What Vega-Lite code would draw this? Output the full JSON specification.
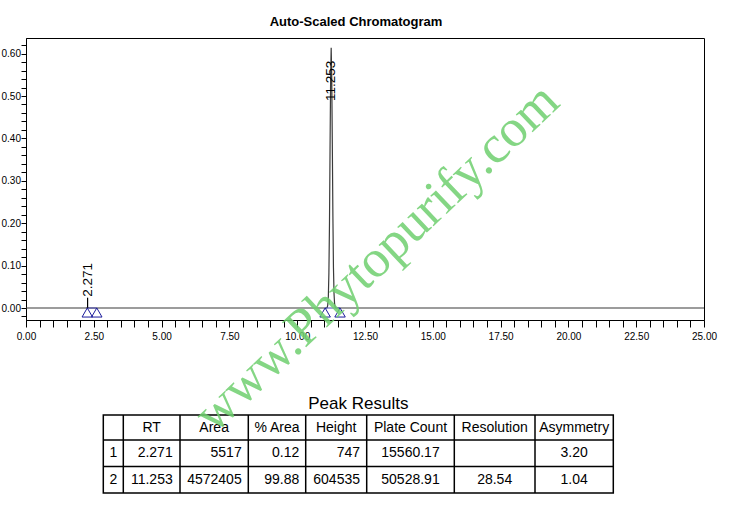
{
  "$schema": "https://vega.github.io/schema/vega-lite/v6.json",
  "width": 678,
  "height": 282,
  "autosize": {"type": "none"},
  "padding": {"left": 26, "top": 38, "right": 26, "bottom": 204},
  "background": "white",
  "config": {
    "view": {"stroke": "black", "strokeWidth": 1},
    "font": "Liberation Sans"
  },
  "title": {
    "text": "Auto-Scaled Chromatogram",
    "font": "Liberation Sans",
    "fontSize": 13,
    "fontWeight": "bold",
    "color": "black",
    "anchor": "middle",
    "frame": "group",
    "dx": -9,
    "baseline": "alphabetic",
    "offset": -1
  },
  "datasets": {
    "signal": [
      {"time": 0, "au": 0},
      {"time": 2.2, "au": 0},
      {"time": 2.235, "au": 0.0001},
      {"time": 2.253, "au": 0.00045},
      {"time": 2.271, "au": 0.00075},
      {"time": 2.289, "au": 0.00047},
      {"time": 2.31, "au": 0.00014},
      {"time": 2.36, "au": 0.00002},
      {"time": 2.45, "au": 0},
      {"time": 11.0, "au": 0},
      {"time": 11.085, "au": 0.0002},
      {"time": 11.1065, "au": 0.0013},
      {"time": 11.127, "au": 0.0068},
      {"time": 11.1485, "au": 0.027},
      {"time": 11.169, "au": 0.0831},
      {"time": 11.1905, "au": 0.1994},
      {"time": 11.211, "au": 0.3724},
      {"time": 11.2325, "au": 0.5419},
      {"time": 11.253, "au": 0.614},
      {"time": 11.2735, "au": 0.545},
      {"time": 11.295, "au": 0.385},
      {"time": 11.3165, "au": 0.215},
      {"time": 11.337, "au": 0.095},
      {"time": 11.3585, "au": 0.033},
      {"time": 11.379, "au": 0.0095},
      {"time": 11.4005, "au": 0.0022},
      {"time": 11.421, "au": 0.0004},
      {"time": 11.46, "au": 0},
      {"time": 25, "au": 0}
    ],
    "peaks": [
      {"peak": 1, "rt": 2.271, "label": "2.271", "height": 0.00075, "start": 2.26, "end": 2.61},
      {"peak": 2, "rt": 11.253, "label": "11.253", "height": 0.614, "start": 11.03, "end": 11.58}
    ],
    "cells": [
      {"row": 0, "col": 0, "text": ""},
      {"row": 0, "col": 1, "text": "RT"},
      {"row": 0, "col": 2, "text": "Area"},
      {"row": 0, "col": 3, "text": "% Area"},
      {"row": 0, "col": 4, "text": "Height"},
      {"row": 0, "col": 5, "text": "Plate Count"},
      {"row": 0, "col": 6, "text": "Resolution"},
      {"row": 0, "col": 7, "text": "Asymmetry"},
      {"row": 1, "col": 0, "text": "1"},
      {"row": 1, "col": 1, "text": "2.271"},
      {"row": 1, "col": 2, "text": "5517"},
      {"row": 1, "col": 3, "text": "0.12"},
      {"row": 1, "col": 4, "text": "747"},
      {"row": 1, "col": 5, "text": "15560.17"},
      {"row": 1, "col": 6, "text": ""},
      {"row": 1, "col": 7, "text": "3.20"},
      {"row": 2, "col": 0, "text": "2"},
      {"row": 2, "col": 1, "text": "11.253"},
      {"row": 2, "col": 2, "text": "4572405"},
      {"row": 2, "col": 3, "text": "99.88"},
      {"row": 2, "col": 4, "text": "604535"},
      {"row": 2, "col": 5, "text": "50528.91"},
      {"row": 2, "col": 6, "text": "28.54"},
      {"row": 2, "col": 7, "text": "1.04"}
    ]
  },
  "layer": [
    {
      "data": {"name": "cells"},
      "mark": {"type": "rect", "filled": false, "color": "black", "stroke": "black", "strokeWidth": 1.5},
      "transform": [{"filter": "datum.row === 0 && datum.col === 0"}],
      "encoding": {
        "x": {"datum": 0, "type": "quantitative", "axis": null, "scale": {"domain": [0, 1, 2, 3, 4, 5, 6, 7, 8], "range": [77.3, 97.3, 154, 222.3, 279.7, 340.7, 428.3, 509, 587.3], "zero": false, "nice": false}},
        "x2": {"datum": 8},
        "y": {"datum": 0, "type": "quantitative", "axis": null, "scale": {"domain": [0, 1, 2, 3], "range": [377, 402, 428.5, 455], "zero": false, "nice": false}},
        "y2": {"datum": 3}
      }
    },
    {
      "data": {"name": "cells"},
      "mark": {"type": "rule", "color": "black", "strokeWidth": 1.5},
      "transform": [{"filter": "datum.row === 0 && datum.col >= 1"}],
      "encoding": {
        "x": {"field": "col", "type": "quantitative", "axis": null, "scale": {"domain": [0, 1, 2, 3, 4, 5, 6, 7, 8], "range": [77.3, 97.3, 154, 222.3, 279.7, 340.7, 428.3, 509, 587.3], "zero": false, "nice": false}},
        "y": {"datum": 0, "type": "quantitative", "axis": null, "scale": {"domain": [0, 1, 2, 3], "range": [377, 402, 428.5, 455], "zero": false, "nice": false}},
        "y2": {"datum": 3}
      }
    },
    {
      "data": {"name": "cells"},
      "mark": {"type": "rule", "color": "black", "strokeWidth": 1.5},
      "transform": [{"filter": "datum.col === 0 && datum.row >= 1"}],
      "encoding": {
        "x": {"datum": 0, "type": "quantitative", "axis": null, "scale": {"domain": [0, 1, 2, 3, 4, 5, 6, 7, 8], "range": [77.3, 97.3, 154, 222.3, 279.7, 340.7, 428.3, 509, 587.3], "zero": false, "nice": false}},
        "x2": {"datum": 8},
        "y": {"field": "row", "type": "quantitative", "axis": null, "scale": {"domain": [0, 1, 2, 3], "range": [377, 402, 428.5, 455], "zero": false, "nice": false}}
      }
    },
    {
      "data": {"name": "cells"},
      "mark": {"type": "text", "font": "Liberation Sans", "fontSize": 14, "color": "black", "align": "center", "baseline": "middle"},
      "transform": [{"filter": "datum.row === 0 || datum.col === 0 || datum.col >= 5"}],
      "encoding": {
        "x": {"field": "col", "type": "quantitative", "axis": null, "scale": {"domain": [0, 1, 2, 3, 4, 5, 6, 7], "range": [87.3, 125.65, 188.15, 251, 310.2, 384.5, 468.65, 548.15], "zero": false, "nice": false}},
        "y": {"field": "row", "type": "quantitative", "axis": null, "scale": {"domain": [0, 1, 2], "range": [389.5, 415.25, 441.75], "zero": false, "nice": false}},
        "text": {"field": "text"}
      }
    },
    {
      "data": {"name": "cells"},
      "mark": {"type": "text", "font": "Liberation Sans", "fontSize": 14, "color": "black", "align": "right", "baseline": "middle"},
      "transform": [{"filter": "datum.row >= 1 && datum.col >= 1 && datum.col <= 4"}],
      "encoding": {
        "x": {"field": "col", "type": "quantitative", "axis": null, "scale": {"domain": [1, 2, 3, 4], "range": [146.7, 215.7, 273.3, 334], "zero": false, "nice": false}},
        "y": {"field": "row", "type": "quantitative", "axis": null, "scale": {"domain": [0, 1, 2], "range": [389.5, 415.25, 441.75], "zero": false, "nice": false}},
        "text": {"field": "text"}
      }
    },
    {
      "data": {"values": [{"caption": "Peak Results"}]},
      "mark": {"type": "text", "font": "Liberation Sans", "fontSize": 17, "color": "black", "align": "center", "baseline": "middle"},
      "encoding": {
        "x": {"datum": 0.5, "type": "quantitative", "axis": null, "scale": {"domain": [0, 1], "range": [77.3, 587.3], "zero": false, "nice": false}},
        "y": {"datum": 0, "type": "quantitative", "axis": null, "scale": {"domain": [0, 1], "range": [366, 377], "zero": false, "nice": false}},
        "text": {"field": "caption"}
      }
    },
    {
      "layer": [
        {
          "data": {"name": "signal"},
          "mark": {"type": "line", "color": "#3a3a3a", "strokeWidth": 1.2, "clip": true},
          "encoding": {
            "x": {
              "field": "time", "type": "quantitative", "title": null,
              "scale": {"domain": [0, 25], "zero": false, "nice": false},
              "axis": {
                "title": null, "grid": false, "tickCount": 500,
                "values": [0, 0.5, 1, 1.5, 2, 2.5, 3, 3.5, 4, 4.5, 5, 5.5, 6, 6.5, 7, 7.5, 8, 8.5, 9, 9.5, 10, 10.5, 11, 11.5, 12, 12.5, 13, 13.5, 14, 14.5, 15, 15.5, 16, 16.5, 17, 17.5, 18, 18.5, 19, 19.5, 20, 20.5, 21, 21.5, 22, 22.5, 23, 23.5, 24, 24.5, 25],
                "labelExpr": "datum.value % 2.5 === 0 ? format(datum.value, '.2f') : ''",
                "labelFont": "Liberation Sans", "labelFontSize": 10, "labelColor": "black",
                "labelPadding": 4, "labelFlush": false, "labelOverlap": false,
                "tickSize": 7, "tickColor": "black", "tickWidth": 1,
                "domainColor": "black", "domainWidth": 1,
                "encode": {"ticks": {"update": {
                  "y": {"signal": "datum.value % 2.5 === 0 ? 0 : 2"},
                  "y2": {"signal": "datum.value % 2.5 === 0 ? 7 : 6"}
                }}}
              }
            },
            "y": {
              "field": "au", "type": "quantitative", "title": null,
              "scale": {"domain": [-0.0283, 0.6368], "zero": false, "nice": false},
              "axis": {
                "title": null, "grid": false, "tickCount": 500,
                "values": [-0.02, 0, 0.02, 0.04, 0.06, 0.08, 0.1, 0.12, 0.14, 0.16, 0.18, 0.2, 0.22, 0.24, 0.26, 0.28, 0.3, 0.32, 0.34, 0.36, 0.38, 0.4, 0.42, 0.44, 0.46, 0.48, 0.5, 0.52, 0.54, 0.56, 0.58, 0.6, 0.62],
                "labelExpr": "abs(datum.value * 10 - round(datum.value * 10)) < 1e-6 ? format(datum.value, '.2f') : ''",
                "labelFont": "Liberation Sans", "labelFontSize": 10, "labelColor": "black",
                "labelPadding": 0.5, "labelFlush": false, "labelOverlap": false,
                "tickSize": 5, "tickColor": "black", "tickWidth": 1,
                "domainColor": "black", "domainWidth": 1,
                "encode": {"ticks": {"update": {
                  "x2": {"signal": "abs(datum.value * 10 - round(datum.value * 10)) < 1e-6 ? -5 : -3"}
                }}}
              }
            }
          }
        },
        {
          "data": {"name": "peaks"},
          "mark": {"type": "rule", "color": "#4646b4", "strokeWidth": 1},
          "encoding": {
            "x": {"field": "start", "type": "quantitative", "title": null},
            "x2": {"field": "end"},
            "y": {"datum": 0, "type": "quantitative", "title": null}
          }
        },
        {
          "data": {"name": "peaks"},
          "mark": {"type": "point", "shape": "triangle-up", "filled": false, "stroke": "#1c1c9c", "color": "#1c1c9c", "strokeWidth": 1, "size": 110, "yOffset": 4.5, "opacity": 1},
          "encoding": {
            "x": {"field": "start", "type": "quantitative", "title": null},
            "y": {"datum": 0, "type": "quantitative", "title": null}
          }
        },
        {
          "data": {"name": "peaks"},
          "mark": {"type": "point", "shape": "triangle-up", "filled": false, "stroke": "#1c1c9c", "color": "#1c1c9c", "strokeWidth": 1, "size": 110, "yOffset": 4.5, "opacity": 1},
          "encoding": {
            "x": {"field": "end", "type": "quantitative", "title": null},
            "y": {"datum": 0, "type": "quantitative", "title": null}
          }
        },
        {
          "data": {"name": "peaks"},
          "transform": [{"filter": "datum.peak === 1"}],
          "mark": {"type": "rule", "color": "black", "strokeWidth": 1.2, "y2Offset": -10},
          "encoding": {
            "x": {"field": "rt", "type": "quantitative", "title": null},
            "y": {"field": "height", "type": "quantitative", "title": null},
            "y2": {"field": "height"}
          }
        },
        {
          "data": {"name": "peaks"},
          "transform": [{"filter": "datum.peak === 1"}],
          "mark": {"type": "text", "angle": 270, "align": "left", "baseline": "middle", "dx": 11, "font": "Liberation Sans", "fontSize": 13.5, "color": "black"},
          "encoding": {
            "x": {"field": "rt", "type": "quantitative", "title": null},
            "y": {"field": "height", "type": "quantitative", "title": null},
            "text": {"field": "label"}
          }
        },
        {
          "data": {"name": "peaks"},
          "transform": [{"filter": "datum.peak === 2"}],
          "mark": {"type": "text", "angle": 270, "align": "right", "baseline": "middle", "dx": -13, "font": "Liberation Sans", "fontSize": 13.5, "color": "black"},
          "encoding": {
            "x": {"field": "rt", "type": "quantitative", "title": null},
            "y": {"field": "height", "type": "quantitative", "title": null},
            "text": {"field": "label"}
          }
        },
        {
          "data": {"values": [{"mark": "www.Phytopurify.com"}]},
          "mark": {"type": "text", "angle": 316.5, "align": "center", "baseline": "middle", "font": "Liberation Serif", "fontSize": 53, "color": "#6fd06f", "opacity": 0.85},
          "encoding": {
            "x": {"datum": 12.94, "type": "quantitative", "title": null},
            "y": {"datum": 0.118, "type": "quantitative", "title": null},
            "text": {"field": "mark"}
          }
        }
      ]
    }
  ],
  "resolve": {"scale": {"x": "independent", "y": "independent"}}
}
